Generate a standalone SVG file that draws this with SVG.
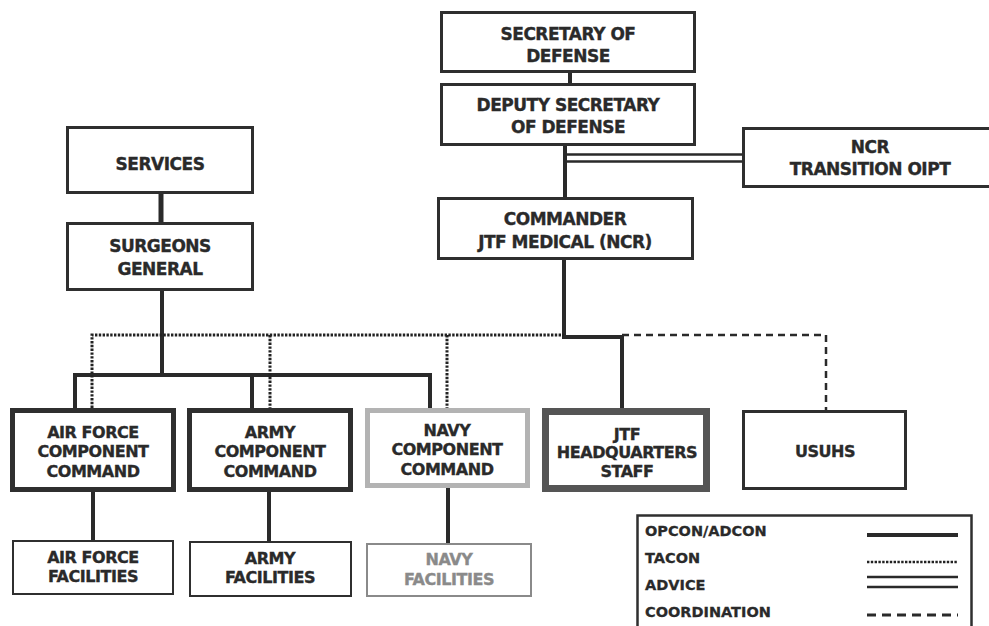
<svg xmlns="http://www.w3.org/2000/svg" width="989" height="626" viewBox="0 0 989 626">
<style>
.box{fill:#fff;stroke:#2f2f2f}
.t{font-family:"DejaVu Sans",Verdana,sans-serif;font-weight:bold;fill:#2a2a2a;stroke:#2a2a2a;stroke-width:0.35;text-anchor:middle}
.t17{font-size:17px;letter-spacing:-0.5px}
.t16{font-size:16px;letter-spacing:-0.45px}
.gray{fill:#8a8a8a;stroke:#8a8a8a}
.solid{fill:none;stroke:#2a2a2a;stroke-width:4}
.dot{fill:none;stroke:#222;stroke-width:3;stroke-dasharray:2.4 1.4}
.dash{fill:none;stroke:#2a2a2a;stroke-width:2.5;stroke-dasharray:7 5}
.dbl{fill:none;stroke:#2a2a2a;stroke-width:2.5}
.leg{font-family:"DejaVu Sans",Verdana,sans-serif;font-weight:bold;font-size:14.5px;fill:#2a2a2a;stroke:#2a2a2a;stroke-width:0.3}
</style>
<rect width="989" height="626" fill="#fff"/>
<g id="connectors">
<path class="solid" d="M570 72V84"/>
<path class="solid" d="M565 145V197"/>
<path class="dbl" d="M567 154.5H743M567 161.5H743"/>
<path class="solid" d="M564 259V337H622V408"/>
<path class="solid" style="stroke-width:5" d="M161 193V223"/>
<path class="solid" d="M162 290V375"/>
<path class="solid" d="M75 408V375H430V408M252 375V408"/>
<path class="dot" d="M92 408V335H564M270 335V408M447 335V408"/>
<path class="dash" d="M622 335H826V417"/>
<path class="solid" d="M93 492V540M269 492V541M448 487V543"/>
</g>
<g id="secdef"><rect class="box" x="441.5" y="12.5" width="253" height="59" stroke-width="3"/>
<text class="t t17" x="568" y="40">SECRETARY OF</text><text class="t t17" x="568" y="62">DEFENSE</text></g>
<g id="depsecdef"><rect class="box" x="441.5" y="84.5" width="253" height="60" stroke-width="3"/>
<text class="t t17" x="568" y="111">DEPUTY SECRETARY</text><text class="t t17" x="568" y="133">OF DEFENSE</text></g>
<g id="ncr"><rect class="box" x="743.5" y="128.5" width="260" height="58" stroke-width="3"/>
<text class="t t17" x="870" y="153">NCR</text><text class="t t17" x="870" y="175">TRANSITION OIPT</text></g>
<g id="commander"><rect class="box" x="438.5" y="198.5" width="254" height="60" stroke-width="3"/>
<text class="t t17" x="565" y="225">COMMANDER</text><text class="t t17" x="565" y="248">JTF MEDICAL (NCR)</text></g>
<g id="services"><rect class="box" x="67.5" y="127.5" width="185" height="65" stroke-width="3"/>
<text class="t t17" x="160" y="170">SERVICES</text></g>
<g id="surgeons"><rect class="box" x="67.5" y="223.5" width="185" height="66" stroke-width="3"/>
<text class="t t17" x="160" y="252">SURGEONS</text><text class="t t17" x="160" y="275">GENERAL</text></g>
<g id="afcc"><rect class="box" x="12.5" y="410.5" width="161" height="79" stroke-width="5"/>
<text class="t t16" x="93" y="438">AIR FORCE</text><text class="t t16" x="93" y="457">COMPONENT</text><text class="t t16" x="93" y="477">COMMAND</text></g>
<g id="armycc"><rect class="box" x="189.5" y="410.5" width="161" height="79" stroke-width="5"/>
<text class="t t16" x="270" y="438">ARMY</text><text class="t t16" x="270" y="457">COMPONENT</text><text class="t t16" x="270" y="477">COMMAND</text></g>
<g id="navycc"><rect class="box" x="367.5" y="410.5" width="160" height="75" style="stroke:#b3b3b3" stroke-width="5"/>
<text class="t t16" x="447" y="436">NAVY</text><text class="t t16" x="447" y="455">COMPONENT</text><text class="t t16" x="447" y="475">COMMAND</text></g>
<g id="jtfhq"><rect class="box" x="545.5" y="411.5" width="161" height="77" style="stroke:#555" stroke-width="7"/>
<text class="t t16" x="627" y="440">JTF</text><text class="t t16" x="627" y="458">HEADQUARTERS</text><text class="t t16" x="627" y="477">STAFF</text></g>
<g id="usuhs"><rect class="box" x="743.5" y="411.5" width="162" height="77" stroke-width="3"/>
<text class="t t16" x="825" y="457">USUHS</text></g>
<g id="affac"><rect class="box" x="13" y="541" width="160" height="53" stroke-width="2"/>
<text class="t t16" x="93" y="563">AIR FORCE</text><text class="t t16" x="93" y="582">FACILITIES</text></g>
<g id="armyfac"><rect class="box" x="190" y="542" width="161" height="54" stroke-width="2"/>
<text class="t t16" x="270" y="564">ARMY</text><text class="t t16" x="270" y="583">FACILITIES</text></g>
<g id="navyfac"><rect class="box" x="367" y="544" width="164" height="52" style="stroke:#8a8a8a" stroke-width="2"/>
<text class="t t16 gray" x="449" y="565">NAVY</text><text class="t t16 gray" x="449" y="585">FACILITIES</text></g>
<g id="legend"><rect class="box" x="637.5" y="515.5" width="334" height="120" stroke-width="2.5"/>
<text class="leg" x="645" y="536">OPCON/ADCON</text>
<text class="leg" x="645" y="563">TACON</text>
<text class="leg" x="645" y="590">ADVICE</text>
<text class="leg" x="645" y="617">COORDINATION</text>
<path class="solid" d="M867 535H958"/>
<path class="dot" style="stroke-width:2.5" d="M867 562H958"/>
<path class="dbl" d="M867 577H958M867 587H958"/>
<path class="dash" style="stroke-width:3;stroke-dasharray:9 6" d="M867 615H958"/>
</g>
</svg>
